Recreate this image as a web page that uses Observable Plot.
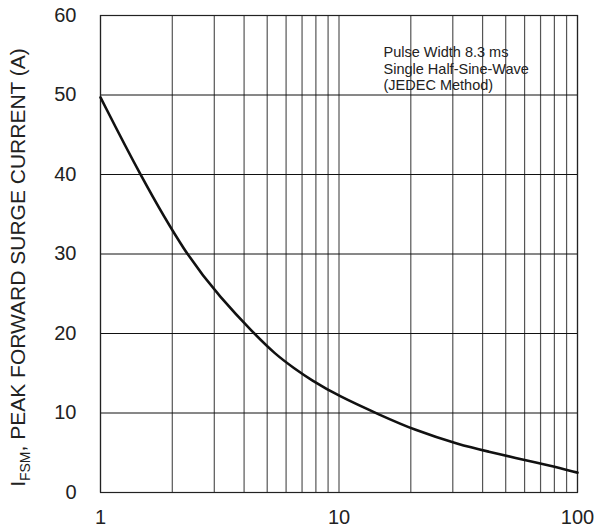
<!DOCTYPE html>
<html><head><meta charset="utf-8">
<script src="https://cdn.jsdelivr.net/npm/d3@7"></script>
<script src="https://cdn.jsdelivr.net/npm/@observablehq/plot@0.6"></script>
<style>body{margin:0;background:#fff}</style>
</head><body><div id="chart"></div>
<script>
// Number of cycles at 60 Hz (x) vs peak forward surge current in A (y)
const cycles  = [1, 1.46, 2.27, 3.2, 4.4, 5.4, 6.5, 7.6, 10, 15, 20.5, 32, 43, 54, 76, 100];
const current = [49.7, 40, 30, 24.4, 20, 17.4, 15.6, 14.2, 12.1, 9.7, 7.9, 6.0, 5.1, 4.4, 3.4, 2.5];

const xGridTicks  = [1,2,3,4,5,6,7,8,9,10,20,30,40,50,60,70,80,90,100];
const xLabelTicks = [1, 10, 100];
const yTicks      = [0, 10, 20, 30, 40, 50, 60];
const noteLines   = ["Pulse Width 8.3 ms", "Single Half-Sine-Wave", "(JEDEC Method)"];

const data = cycles.map((c, i) => ({x: c, y: current[i]}));

const plot = Plot.plot({
  width: 597,
  height: 530,
  marginLeft: 100,
  marginRight: 20,
  marginTop: 15,
  marginBottom: 38,
  style: {fontFamily: "Arial, 'Liberation Sans', sans-serif", fontSize: "20px", color: "#222", background: "#fff"},
  x: {type: "log", domain: [1, 100], ticks: xLabelTicks, tickFormat: d => String(d), label: null, tickSize: 0, tickPadding: 17},
  y: {domain: [0, 60], ticks: yTicks, label: null, tickSize: 0, tickPadding: 24},
  marks: [
    Plot.gridX(xGridTicks, {stroke: "#555", strokeOpacity: 1, strokeWidth: 1.2}),
    Plot.gridY(yTicks, {stroke: "#111", strokeOpacity: 1, strokeWidth: 1}),
    Plot.frame({stroke: "#222", strokeWidth: 1.2}),
    Plot.line(data, {x: "x", y: "y", curve: "basis", stroke: "#111", strokeWidth: 2.6}),
    Plot.text([noteLines.join("\n")], {x: () => 15.37, y: () => 56.2, text: d => d, textAnchor: "start", lineAnchor: "top", lineHeight: 1.14, fontSize: 14.5, fill: "#222"})
  ]
});

// Y-axis title with subscript
const svg = d3.select(plot);
const t = svg.append("text")
  .attr("transform", "translate(25,267.5) rotate(-90)")
  .attr("text-anchor", "middle")
  .attr("font-size", 21)
  .attr("fill", "#222")
  .attr("font-family", "Arial, 'Liberation Sans', sans-serif");
t.append("tspan").text("I");
t.append("tspan").attr("font-size", 14).attr("dy", 5).text("FSM");
t.append("tspan").attr("dy", -5).text(", PEAK FORWARD SURGE CURRENT (A)");

document.getElementById("chart").appendChild(plot);
</script>
</body></html>
